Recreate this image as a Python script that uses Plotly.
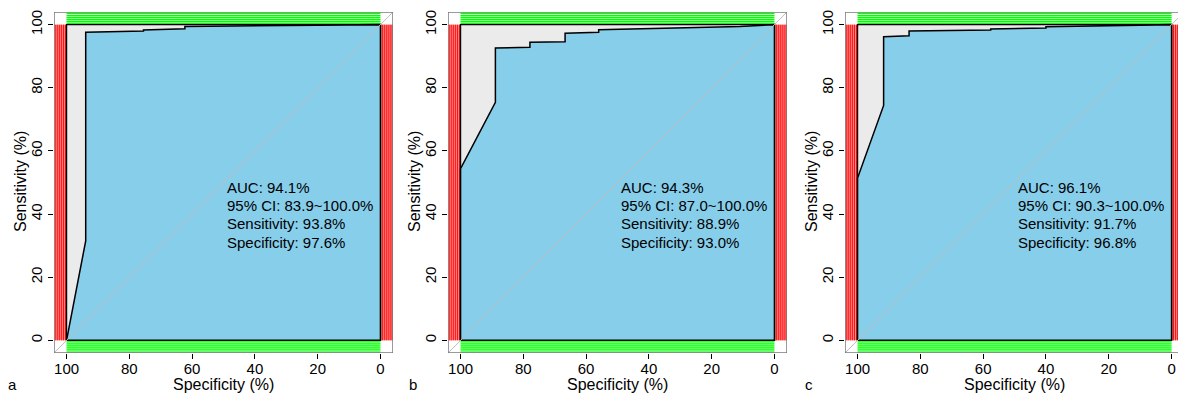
import numpy as np
import plotly.graph_objects as go

W, H = 1178, 393

# ---- data ----
panels = ["a", "b", "c"]
spec_a = [100, 93.9, 93.9, 75.5, 75.5, 62.3, 62.3, 30.0, 0]
sens_a = [0, 31.5, 97.6, 98.0, 98.3, 98.7, 99.4, 99.7, 100]
spec_b = [100, 88.9, 88.9, 77.9, 77.9, 66.7, 66.7, 56.0, 56.0, 11.0, 0]
sens_b = [54.4, 75.4, 92.6, 92.8, 94.4, 94.6, 97.3, 97.6, 98.4, 99.4, 100]
spec_c = [100, 91.7, 91.7, 83.6, 83.6, 57.6, 57.6, 40.0, 40.0, 0]
sens_c = [51.4, 74.4, 96.2, 96.5, 98.0, 98.3, 98.6, 98.9, 99.3, 100]
auc = ["94.1%", "94.3%", "96.1%"]
ci = ["83.9~100.0%", "87.0~100.0%", "90.3~100.0%"]
sens_txt = ["93.8%", "88.9%", "91.7%"]
spec_txt = ["97.6%", "93.0%", "96.8%"]
tick_vals = [0, 20, 40, 60, 80, 100]
tick_text = ["0", "20", "40", "60", "80", "100"]

specs = [spec_a, spec_b, spec_c]
senss = [sens_a, sens_b, sens_c]

FONT = "Arial, Liberation Sans, sans-serif"
BLUE = "#87CEEB"
GRAY = "#EBEBEB"

# pixel layout of the three boxes
box_px = [(54, 393), (448, 787), (845, 1184)]
letter_px = [12, 413, 809]
top_px, bot_px = 12, 353

fig = go.Figure()

def ax(i, s):
    return s if i == 0 else f"{s}{i+1}"

def stripes(lo, hi, step):
    return np.arange(lo + step / 2, hi, step)

for i in range(3):
    xa, ya = ax(i, "x"), ax(i, "y")
    # rug strips (red vertical, green horizontal)
    for (lo, hi) in [(100, 104), (-4, 0)]:
        fig.add_shape(type="rect", x0=lo, x1=hi, y0=0, y1=100, xref=xa, yref=ya,
                      fillcolor="#FF9A9A", line_width=0, layer="below")
        xs, ys = [], []
        for v in stripes(lo, hi, 0.62):
            xs += [v, v, None]; ys += [0, 100, None]
        fig.add_trace(go.Scatter(x=xs, y=ys, mode="lines", line=dict(color="#FF0000", width=1),
                                 hoverinfo="skip", showlegend=False, xaxis=xa, yaxis=ya))
    for (lo, hi) in [(100, 104), (-4, 0)]:
        fig.add_shape(type="rect", x0=0, x1=100, y0=lo, y1=hi, xref=xa, yref=ya,
                      fillcolor="#C8FFC8", line_width=0, layer="below")
        xs, ys = [], []
        for v in stripes(lo, hi, 0.64):
            xs += [0, 100, None]; ys += [v, v, None]
        fig.add_trace(go.Scatter(x=xs, y=ys, mode="lines", line=dict(color="#00FF00", width=1.2),
                                 hoverinfo="skip", showlegend=False, xaxis=xa, yaxis=ya))
    # CI / background area
    fig.add_trace(go.Scatter(x=[100, 100, 0, 0, 100], y=[0, 100, 100, 0, 0], mode="lines",
                             fill="toself", fillcolor=GRAY, line=dict(color="black", width=1.3),
                             hoverinfo="skip", showlegend=False, xaxis=xa, yaxis=ya))
    # ROC area
    px_ = [100] + specs[i] + [0, 100]
    py_ = [0] + senss[i] + [0, 0]
    fig.add_trace(go.Scatter(x=px_, y=py_, mode="lines", fill="toself", fillcolor=BLUE,
                             line=dict(color="black", width=1.5), hoverinfo="skip",
                             showlegend=False, xaxis=xa, yaxis=ya))
    # diagonal
    fig.add_trace(go.Scatter(x=[104, -4], y=[-4, 104], mode="lines",
                             line=dict(color="#BDBDBD", width=1), hoverinfo="skip",
                             showlegend=False, xaxis=xa, yaxis=ya))
    # text
    lines = [f"AUC: {auc[i]}", f"95% CI: {ci[i]}", f"Sensitivity: {sens_txt[i]}",
             f"Specificity: {spec_txt[i]}"]
    for k, t in enumerate(lines):
        fig.add_annotation(x=49.4, y=48.5 - 5.8 * k, xref=xa, yref=ya, text=t, showarrow=False,
                           xanchor="left", yanchor="middle", font=dict(size=15, color="black", family=FONT))
    # frame
    fig.add_shape(type="rect", x0=104, x1=-4, y0=-4, y1=104, xref=xa, yref=ya,
                  line=dict(color="#7A7A7A", width=1.5), fillcolor="rgba(0,0,0,0)")

    l, r = box_px[i]
    d0, d1 = l / W, min(r, W) / W
    xrange_ = [104, -4] if r <= W else [104, 104 - (W - l) / 3.14]
    axis_common = dict(tickvals=tick_vals, ticktext=tick_text, ticks="outside", ticklen=5,
                       tickcolor="black", tickwidth=1, showgrid=False, zeroline=False,
                       showline=False, automargin=False,
                       tickfont=dict(size=15, color="black", family=FONT))
    fig.update_layout(**{
        ax(i, "xaxis"): dict(domain=[d0, d1], range=xrange_, anchor=ya,
                             ticklabelstandoff=-3, **axis_common),
        ax(i, "yaxis"): dict(domain=[1 - bot_px / H, 1 - top_px / H], range=[-4, 104], anchor=xa,
                             tickangle=-90, **axis_common),
    })
    # axis titles
    fig.add_annotation(x=(l + r) / 2 / W, y=1 - 384 / H,
                       xref="paper", yref="paper", text="Specificity (%)", showarrow=False,
                       xanchor="center", yanchor="middle", font=dict(size=16, color="black", family=FONT))
    fig.add_annotation(x=(l - 34) / W, y=1 - 182 / H, xref="paper", yref="paper",
                       text="Sensitivity (%)", showarrow=False, textangle=-90,
                       xanchor="center", yanchor="middle", font=dict(size=16, color="black", family=FONT))
    fig.add_annotation(x=letter_px[i] / W, y=1 - 384 / H, xref="paper", yref="paper",
                       text=panels[i], showarrow=False, xanchor="center", yanchor="middle",
                       font=dict(size=15, color="black", family=FONT))

fig.update_layout(width=W, height=H, margin=dict(l=0, r=0, t=0, b=0),
                  paper_bgcolor="white", plot_bgcolor="white", template="none",
                  showlegend=False)
fig.write_html("out.html", config={"displayModeBar": False},
               post_script="document.body.style.margin='0';document.body.style.overflow='hidden';")
